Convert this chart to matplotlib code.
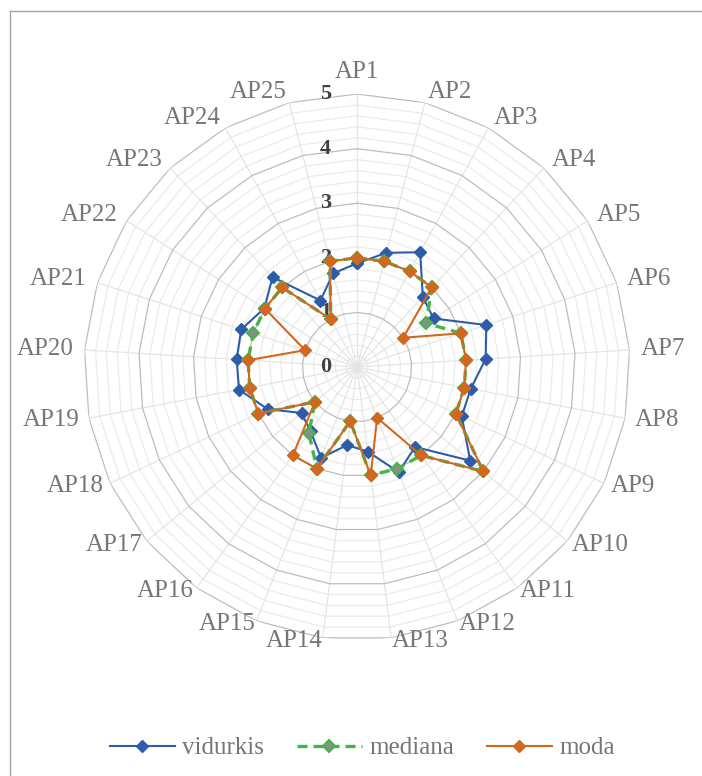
import matplotlib.pyplot as plt
import numpy as np
from matplotlib.lines import Line2D

plt.rcParams["font.family"] = ["Liberation Serif", "DejaVu Serif"]

categories = [f"AP{i}" for i in range(1, 26)]
vidurkis = [1.90, 2.16, 2.40, 1.76, 1.66, 2.49, 2.36, 2.12, 2.12, 2.69, 1.81, 2.07, 1.56,
            1.44, 1.79, 1.45, 1.32, 1.81, 2.20, 2.21, 2.23, 2.01, 2.26, 1.39, 1.77]
mediana = [2, 2, 2, 2, 1.5, 2, 2, 2, 2, 3, 2, 2, 2, 1, 2, 1.5, 1, 2, 2, 2, 2, 2, 2, 1, 2]
moda = [2, 2, 2, 2, 1, 2, 2, 2, 2, 3, 2, 1, 2, 1, 2, 2, 1, 2, 2, 2, 1, 2, 2, 1, 2]
r_ticks = [0, 1, 2, 3, 4, 5]

BLUE = "#2F5CA8"
GREEN = "#44B548"
ORANGE = "#D0691F"
TEXT_GRAY = "#767676"

n = len(categories)
theta = np.linspace(0, 2 * np.pi, n, endpoint=False)
theta_c = np.append(theta, theta[0])


def closed(values):
    return np.append(values, values[0])


fig = plt.figure(figsize=(7.02, 7.76), dpi=100)
ax = fig.add_axes([0.1197, 0.1752, 0.7778, 0.7036], projection="polar")
ax.set_theta_zero_location("N")
ax.set_theta_direction(-1)
ax.set_ylim(0, 5)
ax.set_xticks([])
ax.set_yticks([])
ax.grid(False)
ax.spines["polar"].set_visible(False)
ax.patch.set_alpha(0)

# polygon gridlines: minor every 0.2, major every 1
for r in np.arange(0.2, 5.001, 0.2):
    major = abs(r - round(r)) < 1e-6
    ax.plot(theta_c, np.full(n + 1, r), color="#BDBDBD" if major else "#EBEBEB",
            lw=0.9, zorder=1 if major else 0.5)
for t in theta:
    ax.plot([t, t], [0, 5], color="#E5E5E5", lw=0.9, zorder=0.6)

# radial value labels
for v in r_ticks:
    ax.annotate(str(v), xy=(0, v), xytext=(-26, 0), textcoords="offset pixels",
                ha="right", va="center", fontsize=16, fontweight="bold",
                color="#404040", zorder=2)

# category labels
for t, lab in zip(theta, categories):
    s, c = np.sin(t), np.cos(t)
    if abs(s) < 0.05:
        ax.text(t, 5.2, lab, ha="center", va="bottom", fontsize=18, color=TEXT_GRAY)
    else:
        r_lab = 5.2 - 0.15 * max(0.0, -c)
        ax.text(t, r_lab, lab, ha="left" if s > 0 else "right", va="center",
                fontsize=18, color=TEXT_GRAY)

ax.plot(theta_c, closed(vidurkis), color=BLUE, lw=1.5, marker="D", ms=6.5,
        mfc=BLUE, mec=BLUE, label="vidurkis", zorder=3)
ax.plot(theta_c, closed(mediana), color=GREEN, lw=2.4, ls=(0, (3, 1.8)), marker="D",
        ms=6.5, mfc="#8C8C8C", mec=GREEN, mew=1.5, label="mediana", zorder=4)
ax.plot(theta_c, closed(moda), color=ORANGE, lw=1.5, marker="D", ms=6.5,
        mfc=ORANGE, mec=ORANGE, label="moda", zorder=5)

leg = fig.legend(loc="center", bbox_to_anchor=(0.516, 1 - 748 / 776), ncol=3,
                 frameon=False, fontsize=18, handlelength=2.6, handletextpad=0.3,
                 columnspacing=1.3)
for txt in leg.get_texts():
    txt.set_color(TEXT_GRAY)

# chart frame: only left and top edges fall inside the picture
x0, y0 = 9.5 / 702, 1 - 10.5 / 776
fig.add_artist(Line2D([x0, x0], [0, y0], transform=fig.transFigure, color="#A6A6A6", lw=1.0))
fig.add_artist(Line2D([x0, 1], [y0, y0], transform=fig.transFigure, color="#A6A6A6", lw=1.0))

fig.savefig("out.png", dpi=100)
